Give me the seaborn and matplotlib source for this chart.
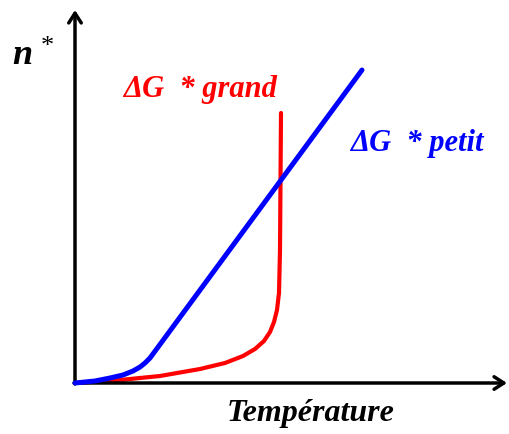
import matplotlib
matplotlib.use("Agg")
import matplotlib.pyplot as plt
import seaborn as sns
import pandas as pd

# schematic curves (T, n*) - origin at axes intersection
t_petit = [0, 20, 35, 48, 58, 65, 70, 75, 287]
n_petit = [0, 2, 5, 8, 12, 16, 20, 25, 313]

t_grand = [0, 45, 85, 125, 150, 168, 180, 189, 195, 199, 202, 204, 205, 206]
n_grand = [0, 3, 7, 14, 20, 27, 34, 42, 51, 61, 73, 90, 133, 270]

label_grand = "grand"
label_petit = "petit"
xlabel = "Température"
ylabel = "n"

sns.set_style("white")
plt.rcParams["font.family"] = ["Liberation Serif", "DejaVu Serif"]

fig = plt.figure(figsize=(5.1, 4.34), dpi=100)
ax = fig.add_axes([0, 0, 1, 1])

df_p = pd.DataFrame({"T": t_petit, "n": n_petit})
df_g = pd.DataFrame({"T": t_grand, "n": n_grand})
sns.lineplot(data=df_g, x="T", y="n", color="#ff0000", linewidth=3.0,
             sort=False, ax=ax, zorder=3)
sns.lineplot(data=df_p, x="T", y="n", color="#0000ff", linewidth=3.6,
             sort=False, ax=ax, zorder=4)

ax.set_xlim(-75, 435)
ax.set_ylim(-51, 383)
ax.axis("off")

# axes arrows
head = "->,head_width=0.45,head_length=0.7"
ax.annotate("", xy=(432, 0), xytext=(-1, 0),
            arrowprops=dict(arrowstyle=head, lw=2.5, color="black",
                            shrinkA=0, shrinkB=0))
ax.annotate("", xy=(0, 373), xytext=(0, -1),
            arrowprops=dict(arrowstyle=head, lw=2.5, color="black",
                            shrinkA=0, shrinkB=0))

# labels
ax.text(-63, 328, ylabel, fontsize=26, fontweight="bold", fontstyle="italic",
        color="black", va="center", ha="left")
ax.text(-34, 336, "*", fontsize=19, color="black", va="center", ha="left")

ax.text(48, 293, "\u0394G  * " + label_grand, fontsize=22, fontweight="bold",
        fontstyle="italic", color="#ff0000", va="center", ha="left")
ax.text(275, 239, "\u0394G  * " + label_petit, fontsize=22, fontweight="bold",
        fontstyle="italic", color="#0000ff", va="center", ha="left")

ax.text(236, -30, xlabel, fontsize=23, fontweight="bold", fontstyle="italic",
        color="black", va="center", ha="center")

fig.savefig("out.png", dpi=100)
